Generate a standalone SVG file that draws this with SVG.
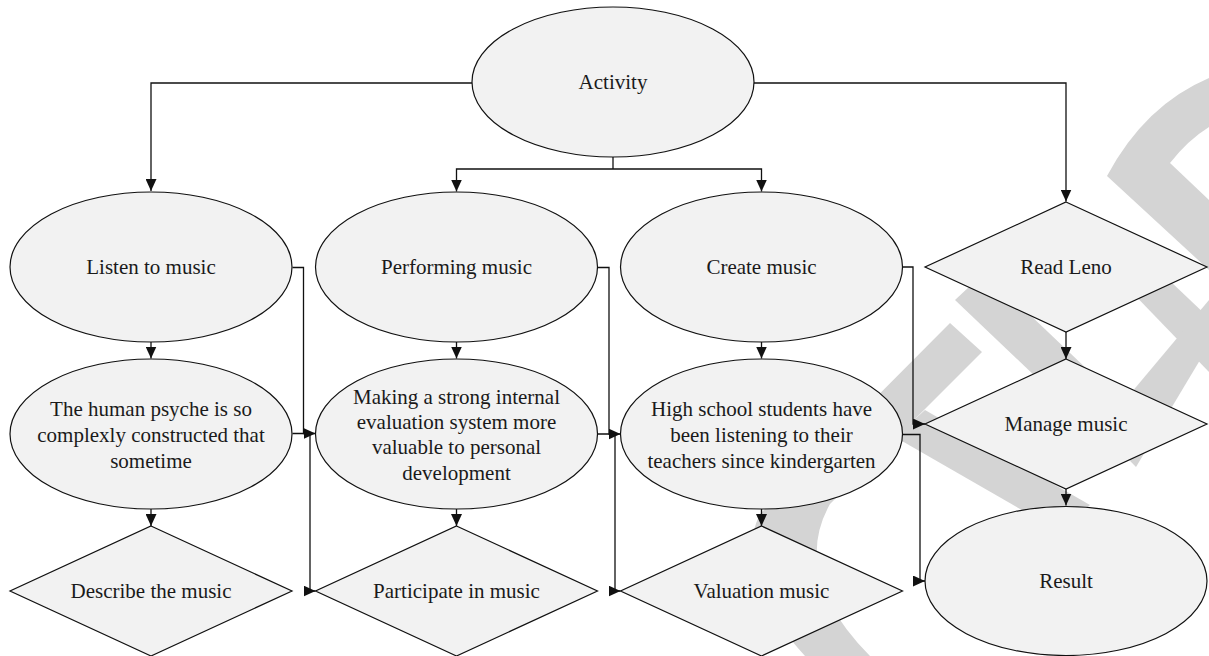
<svg xmlns="http://www.w3.org/2000/svg" width="1209" height="656" viewBox="0 0 1209 656">
<defs>
<marker id="arr" markerUnits="userSpaceOnUse" markerWidth="12" markerHeight="11" refX="12" refY="5.5" orient="auto">
<path d="M0,0 L12,5.5 L0,11 Z" fill="#111"/>
</marker>
<style>
.n{fill:#f2f2f2;stroke:#111;stroke-width:1.2}
.t{font-family:"Liberation Serif","Times New Roman",serif;font-size:21px;fill:#1a1a1a;text-anchor:middle;dominant-baseline:central}
.c{fill:none;stroke:#111;stroke-width:1.3;marker-end:url(#arr)}
.l{fill:none;stroke:#111;stroke-width:1.3}
.w{fill:#d4d4d4;stroke:none}
</style>
</defs>
<rect width="1209" height="656" fill="#fff"/>
<g id="watermark">
<path class="w" d="M1209,78 Q1145,105 1107,176 L1209,270 L1209,200 L1170,163 Q1188,140 1209,127 Z"/>
<path class="w" d="M955,300 L985,272 L1090,372 L1060,400 Z"/>
<path class="w" d="M1125,285 L1150,262 L1209,318 L1209,372 Z"/>
<path class="w" d="M1209,300 L1209,345 L1136,467 L1100,430 Z"/>
<path class="w" d="M895,437 L925,410 L1090,505 L1060,532 Z"/>
<path class="w" d="M950,323 L982,352 L830,504 Q790,575 870,656 L805,656 Q730,575 760,514 Z"/>
</g>
<g id="connectors">
<path class="c" d="M472,83 H151 V191"/>
<path class="c" d="M754,83 H1066 V201.5"/>
<path class="l" d="M613,157 V169"/>
<path class="c" d="M613,169 H456.5 V191.5"/>
<path class="c" d="M613,169 H761.5 V191.5"/>
<path class="c" d="M151,342 V358.5"/>
<path class="c" d="M456.5,342 V358.5"/>
<path class="c" d="M761.5,342 V358.5"/>
<path class="c" d="M151,509 V526"/>
<path class="c" d="M456.5,509 V526"/>
<path class="c" d="M761.5,509 V526"/>
<path class="c" d="M1066,332 V359"/>
<path class="c" d="M1066,489 V505.5"/>
<path class="c" d="M292.5,267.5 H303.5 V433.5 H315.5"/>
<path class="c" d="M292.5,433.5 H310 V591 H315.5"/>
<path class="c" d="M597.5,267.5 H609 V434 H620.5"/>
<path class="c" d="M597.5,434 H615 V591 H620.5"/>
<path class="c" d="M902.5,267 H913 V424 H925"/>
<path class="c" d="M902.5,434.5 H920 V581 H925"/>
</g>
<g id="activity"><ellipse class="n" cx="613" cy="82" rx="141" ry="75"/><text class="t" x="613" y="82">Activity</text></g>
<g id="listen"><ellipse class="n" cx="151" cy="267" rx="141" ry="75"/><text class="t" x="151" y="267">Listen to music</text></g>
<g id="performing"><ellipse class="n" cx="456.5" cy="267" rx="141" ry="75"/><text class="t" x="456.5" y="267">Performing music</text></g>
<g id="create"><ellipse class="n" cx="761.5" cy="267" rx="141" ry="75"/><text class="t" x="761.5" y="267">Create music</text></g>
<g id="readleno"><path class="n" d="M1066,202 L1207,267 L1066,332 L925,267 Z"/><text class="t" x="1066" y="267">Read Leno</text></g>
<g id="psyche"><ellipse class="n" cx="151" cy="434" rx="141" ry="75"/><text class="t" x="151"><tspan x="151" y="409">The human psyche is so</tspan><tspan x="151" y="435">complexly constructed that</tspan><tspan x="151" y="461">sometime</tspan></text></g>
<g id="making"><ellipse class="n" cx="456.5" cy="434" rx="141" ry="75"/><text class="t" x="456.5"><tspan x="456.5" y="397">Making a strong internal</tspan><tspan x="456.5" y="422">evaluation system more</tspan><tspan x="456.5" y="447">valuable to personal</tspan><tspan x="456.5" y="472.5">development</tspan></text></g>
<g id="highschool"><ellipse class="n" cx="761.5" cy="434" rx="141" ry="75"/><text class="t" x="761.5"><tspan x="761.5" y="409">High school students have</tspan><tspan x="761.5" y="435">been listening to their</tspan><tspan x="761.5" y="461">teachers since kindergarten</tspan></text></g>
<g id="manage"><path class="n" d="M1066,359 L1207,424 L1066,489 L925,424 Z"/><text class="t" x="1066" y="424">Manage music</text></g>
<g id="describe"><path class="n" d="M151,526 L292,591 L151,656 L10,591 Z"/><text class="t" x="151" y="591">Describe the music</text></g>
<g id="participate"><path class="n" d="M456.5,526 L597.5,591 L456.5,656 L315.5,591 Z"/><text class="t" x="456.5" y="591">Participate in music</text></g>
<g id="valuation"><path class="n" d="M761.5,526 L902.5,591 L761.5,656 L620.5,591 Z"/><text class="t" x="761.5" y="591">Valuation music</text></g>
<g id="result"><ellipse class="n" cx="1066" cy="581" rx="141" ry="74.5"/><text class="t" x="1066" y="581">Result</text></g>
</svg>
